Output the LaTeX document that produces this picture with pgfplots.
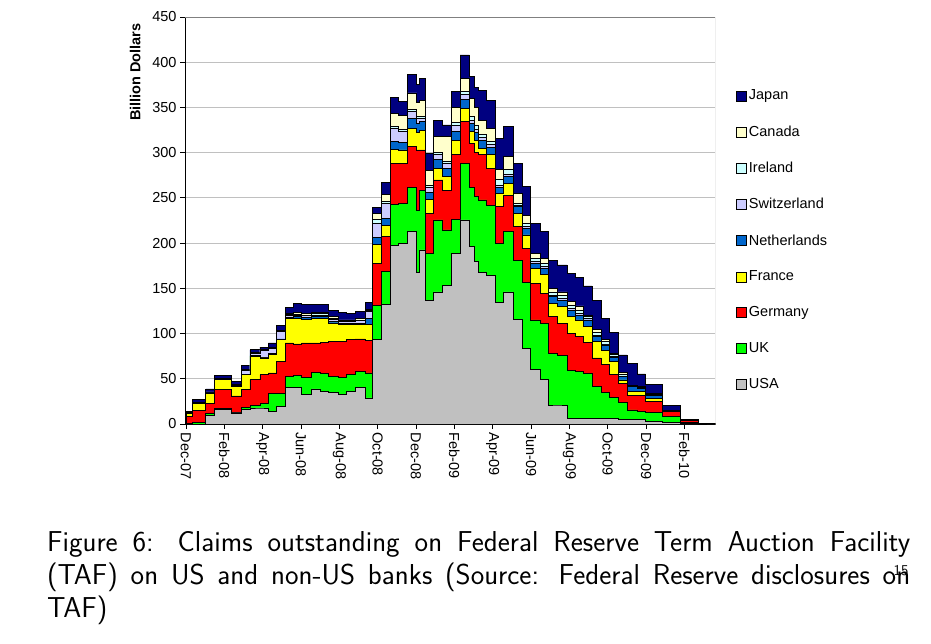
\documentclass[border=0pt]{standalone}
\usepackage{fontspec}
\setmainfont{Liberation Sans}
\usepackage{pgfplots}
\usepackage{pgfplotstable}
\pgfplotsset{compat=1.18}
\definecolor{cJPN}{HTML}{000080}
\definecolor{cCAN}{HTML}{FFFFCC}
\definecolor{cIRL}{HTML}{CCFFFF}
\definecolor{cSUI}{HTML}{CCCCFF}
\definecolor{cNED}{HTML}{0066CC}
\definecolor{cFRA}{HTML}{FFFF00}
\definecolor{cGER}{HTML}{FF0000}
\definecolor{cUK}{HTML}{00FF00}
\definecolor{cUSA}{HTML}{C0C0C0}
\definecolor{gridc}{HTML}{C0C0C0}
% cumulative tops of the stacked layers (billion dollars), x = months after Dec-07
\pgfplotstableread{
x     USA   UK    GER   FRA   NED   SUI   IRL   CAN   JPN
0.03  0     1     8.8   12    12    12    12    12.3  13.6
0.35  0     2     14.7  23    23.3  23.6  23.8  24.2  27.6
1.04  9.2   12    23    34    34.3  34.8  35    35.4  38.7
1.51  15.8  17    38    49    49.4  50    50.2  50.6  53.4
2.38  12.2  13    31    41.6  42    42.8  43    43.5  47
2.91  15.8  18    38    54.5  55    59.5  60    60.5  64.5
3.34  17.7  21    49    75    75.5  78.5  79    79.3  82
3.86  17.7  23    54.5  73    74    81.5  82    82.3  85
4.30  14    34    56.4  76.7  77.5  84    84.5  85    89.6
4.73  19.5  34    69    93    94    102   102.5 103   108.7
5.17  40    52.7  89.6  117   118   120   121   122   129
5.60  40    53.4  88.5  117   118.5 120.5 121.5 123   133
6.04  32.4  51    89.6  116   117.5 119.5 120.5 122   132
6.56  38.7  57    89.6  117   118.5 120.5 122   123.5 132
7.00  36    56    90    117   118.5 120.5 122   123.5 132
7.43  35    52.7  91.4  111.7 113   115.5 117   119   126
7.95  32.4  51.6  91.4  110   111.5 113   114   115   123.5
8.39  36    55    93    110   111.5 113   114   115   122.7
8.83  40    58    94    110   111.5 114   115   116.5 124.6
9.35  28.8  56.4  92    110   117   124.6 125.5 126.5 134.5
9.75  93    131   177   198   206   222   226   233   239
10.22 132   169   207   219   227   244   246   253.6 267
10.65 197.6 242.5 288   304   312.6 327   329   343   360.5
11.09 200   244   288   303   311   324   326   341.5 357
11.56 212.7 262   306.7 327   338   346   348   366   386
12.05 168   236   303   322   332   338   340   356   375
12.18 192.4 258.7 303   325   334   338   340   358   382
12.48 137   189   233   248   256   262   264   280   299
12.91 146   225.6 269.8 282.7 292   297.5 300   317.7 336
13.40 153   214.5 258.7 273.5 282.7 288   290   317.7 330.6
13.87 188.7 226   297.5 314   323   330   333   350   367.5
14.30 225.6 288   334   349   359   364.5 368   382   408
14.79 196   262   310   323   332   336   340   360   384
15.03 180   252   300   314   322   326   330   350   372
15.27 168   247.7 297.5 305   314   317   320   336   369
15.70 164   242   282.7 297.5 306   309   312   327   358
16.14 134   199.8 240   255   262   264   270   281   316
16.57 146   212.7 253   266   274   276   281   295.6 328.8
17.06 116   181   218   233   240   242   244   255   288
17.53 84    157   194   209   216   218   222   231   262.4
17.96 60    115   155.5 172   178   180   183   188.7 222
18.49 49    111   144.5 165   172   174   178   183   212.7
18.92 21    78    118.7 133.4 140.8 142   146   150   181
19.36 21    76    111   129.7 137   139   142   146   175.8
19.88 6.6   59.7  100   118.7 126   128   131   135   166
20.31 6     58    96.6  115   120.5 122   126   130.5 162
20.75 6     56    90    107.6 115   116.5 119   120.5 152.6
21.18 6.5   42    73    91    96.6  98    101   104.7 136.4
21.67 6.5   35    66    81.8  87.4  88.5  91    93.6  116.5
22.10 6.5   29    55    69    73.7  74.5  76.5  78    101
22.57 5     24    45    48.7  52.3  53    55    56.8  76.3
23.01 5     15.5  32    35.8  41    41.5  42.5  43    67
23.54 5     13.6  32    35.8  39.4  40    40.5  41    55.3
23.97 2.5   12.5  24.7  28.4  32    32.5  33    34    44
24.87 2     8     13.6  14    14.5  14.5  14.8  15    21
25.80 0.5   1.5   4.4   4.5   4.6   4.6   4.7   4.8   5.2
26.75 0     0.2   0.6   0.6   0.6   0.6   0.6   0.6   1
27.60 0     0.2   0.6   0.6   0.6   0.6   0.6   0.6   1
}\taf

\newcommand{\fs}{\fontsize{14.5}{17}\selectfont}

\begin{document}
\begin{tikzpicture}[x=1pt,y=1pt]
\useasboundingbox (0,0) rectangle (931,643);
\begin{axis}[
  at={(185pt,219pt)}, anchor=south west,
  scale only axis, width=530pt, height=407pt,
  xmin=-0.05, xmax=27.6, ymin=0, ymax=450,
  axis lines*=left,
  axis line style={black, line width=1pt},
  tick align=outside, major tick length=5pt,
  tick style={black, line width=0.8pt},
  xtick={0,2,...,26},
  xticklabels={Dec-07,Feb-08,Apr-08,Jun-08,Aug-08,Oct-08,Dec-08,Feb-09,Apr-09,Jun-09,Aug-09,Oct-09,Dec-09,Feb-10},
  xticklabel style={rotate=-90, anchor=west, font=\fs},
  ytick={0,50,...,450},
  yticklabel style={font=\fs},
  /pgf/number format/assume math mode=true,
  ymajorgrids, grid style={gridc, line width=0.9pt},
  ylabel={\bfseries Billion Dollars},
  ylabel style={at={(axis description cs:-0.094,0.993)}, anchor=east, font=\fs},
  legend style={at={(1.04,0.826)}, anchor=north west, draw=none, fill=none,
    font=\fs, row sep=20.3pt, inner sep=0pt, cells={anchor=west}},
  legend image code/.code={\draw[#1,draw=black,line width=0.5pt] (0pt,-5pt) rectangle (10pt,5pt);},
  every axis plot/.append style={const plot, draw=black, line width=0.9pt},
]
\addplot[fill=cJPN] table[x=x,y=JPN]{\taf} \closedcycle;
\addplot[fill=cCAN] table[x=x,y=CAN]{\taf} \closedcycle;
\addplot[fill=cIRL] table[x=x,y=IRL]{\taf} \closedcycle;
\addplot[fill=cSUI] table[x=x,y=SUI]{\taf} \closedcycle;
\addplot[fill=cNED] table[x=x,y=NED]{\taf} \closedcycle;
\addplot[fill=cFRA] table[x=x,y=FRA]{\taf} \closedcycle;
\addplot[fill=cGER] table[x=x,y=GER]{\taf} \closedcycle;
\addplot[fill=cUK]  table[x=x,y=UK]{\taf} \closedcycle;
\addplot[fill=cUSA] table[x=x,y=USA]{\taf} \closedcycle;
\legend{Japan,Canada,Ireland,Switzerland,Netherlands,France,Germany,UK,USA}
\draw[gray, line width=0.8pt] (rel axis cs:0,1) -- (rel axis cs:1,1) -- (rel axis cs:1,0);
\end{axis}
\node[anchor=north west, inner sep=0pt, text width=863pt, align=justify,
  font=\sffamily\fontsize{28.8}{33}\selectfont] at (47,112)
  {Figure 6: Claims outstanding on Federal Reserve Term Auction Facility\linebreak (TAF) on US and non-US banks (Source: Federal Reserve disclosures on\linebreak TAF)};
\node[font=\sffamily\fontsize{15}{15}\selectfont, inner sep=0pt] at (901,72) {15};
\end{tikzpicture}
\end{document}
